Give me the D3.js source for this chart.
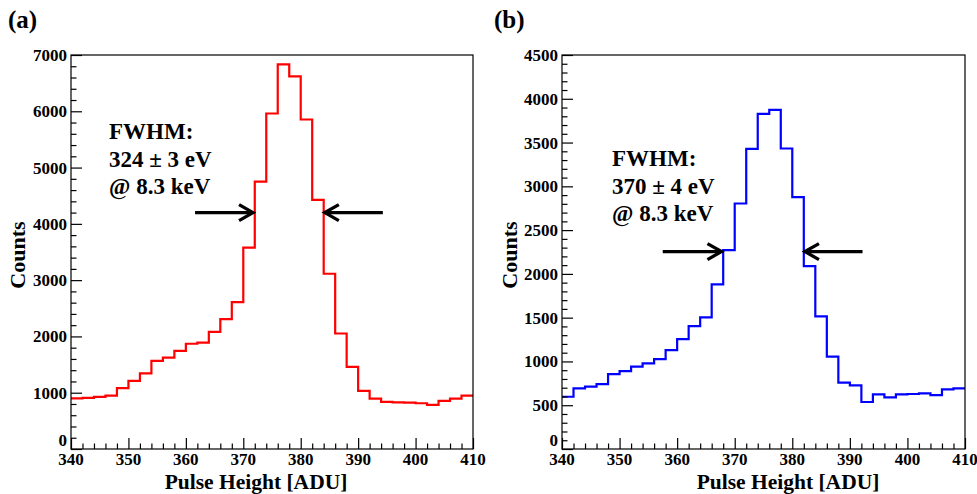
<!DOCTYPE html>
<html>
<head>
<meta charset="utf-8">
<script src="https://cdn.jsdelivr.net/npm/d3@7"></script>
<style>
  html, body { margin: 0; padding: 0; background: #fff; }
  svg { display: block; }
  text { font-family: "Liberation Serif", "Times New Roman", serif; font-weight: bold; fill: #000; }
</style>
</head>
<body>
<svg id="chart" width="977" height="494"></svg>
<script>
// ---- data ----
const binStarts = [340, 342, 344, 346, 348, 350, 352, 354, 356, 358,
                   360, 362, 364, 366, 368, 370, 372, 374, 376, 378,
                   380, 382, 384, 386, 388, 390, 392, 394, 396, 398,
                   400, 402, 404, 406, 408];
const binWidth = 2;
const countsA = [900, 910, 925, 950, 1080, 1210, 1345, 1565, 1625, 1745,
                 1870, 1890, 2080, 2307, 2610, 3577, 4751, 5961, 6833, 6619,
                 5854, 4425, 3114, 2052, 1459, 1032, 896, 836, 830, 824,
                 813, 783, 854, 896, 949];
const countsB = [597, 693, 712, 742, 856, 890, 940, 978, 1027, 1130,
                 1256, 1404, 1503, 1880, 2272, 2804, 3428, 3828, 3874, 3432,
                 2877, 2089, 1514, 1054, 757, 727, 537, 624, 590, 624,
                 628, 635, 616, 681, 693];
const xTicks = [340, 350, 360, 370, 380, 390, 400, 410];
const yTicksA = [0, 1000, 2000, 3000, 4000, 5000, 6000, 7000];
const yTicksB = [0, 500, 1000, 1500, 2000, 2500, 3000, 3500, 4000, 4500];
const labelA = ["FWHM:", "324 ± 3 eV", "@ 8.3 keV"];
const labelB = ["FWHM:", "370 ± 4 eV", "@ 8.3 keV"];
// FWHM arrow markers in data units: level, left arrow [tail, tip], right arrow [tail, tip]
const arrowA = { level: 4200, left: [361.6, 371.7], right: [394.3, 384.2] };
const arrowB = { level: 2255, left: [357.5, 367.7], right: [392.2, 382.2] };

const svg = d3.select("#chart");

function drawPanel(opt) {
  const g = svg.append("g");
  const x = d3.scaleLinear().domain([340, 410]).range([opt.left, opt.right]);
  const y = d3.scaleLinear().domain([0, opt.ymax]).range([opt.bottom, opt.top]);

  // histogram step line
  const pts = opt.counts.map((c, i) => [binStarts[i], c]);
  pts.push([binStarts[binStarts.length - 1] + binWidth, opt.counts[opt.counts.length - 1]]);
  const line = d3.line().x(d => x(d[0])).y(d => y(d[1])).curve(d3.curveStepAfter);
  g.append("path").attr("d", line(pts))
    .attr("fill", "none").attr("stroke", opt.color).attr("stroke-width", 2.2)
    .attr("stroke-linejoin", "miter");

  // frame
  g.append("rect").attr("x", opt.left).attr("y", opt.top)
    .attr("width", opt.right - opt.left).attr("height", opt.bottom - opt.top)
    .attr("fill", "none").attr("stroke", "#000").attr("stroke-width", 1.2);

  // x axis (ticks inward / upward)
  const xAxis = d3.axisTop(x).tickValues(xTicks).tickSize(11).tickFormat("");
  const xMinor = d3.axisTop(x).tickValues(d3.range(340, 411, 2).filter(v => v % 10 !== 0)).tickSize(5.5).tickFormat("");
  [xAxis, xMinor].forEach(ax => {
    const a = g.append("g").attr("transform", `translate(0,${opt.bottom})`).call(ax);
    a.select(".domain").remove();
    a.selectAll("line").attr("stroke", "#000").attr("stroke-width", 1.2);
  });
  g.selectAll(".xlab").data(xTicks).enter().append("text")
    .attr("x", d => x(d)).attr("y", opt.bottom + 16)
    .attr("text-anchor", "middle").attr("font-size", 17).text(d => d);

  // y axis (ticks inward / rightward)
  const yStep = opt.yTicks[1] - opt.yTicks[0];
  const yAxis = d3.axisRight(y).tickValues(opt.yTicks).tickSize(11).tickFormat("");
  const yMinor = d3.axisRight(y).tickValues(d3.range(0, opt.ymax + 1, yStep / 5).filter(v => v % yStep !== 0)).tickSize(5.5).tickFormat("");
  [yAxis, yMinor].forEach(ax => {
    const a = g.append("g").attr("transform", `translate(${opt.left},0)`).call(ax);
    a.select(".domain").remove();
    a.selectAll("line").attr("stroke", "#000").attr("stroke-width", 1.2);
  });
  g.selectAll(".ylab").data(opt.yTicks).enter().append("text")
    .attr("x", opt.left - 4).attr("y", d => y(d) + (d === 0 ? -3.5 : 6))
    .attr("text-anchor", "end").attr("font-size", 17).text(d => d);

  // axis titles
  g.append("text").attr("x", opt.xTitleX).attr("y", 489)
    .attr("text-anchor", "middle").attr("font-size", 21.5).text("Pulse Height [ADU]");
  g.append("text").attr("transform", `translate(${opt.yTitleX},${(opt.top + opt.bottom) / 2 + 3}) rotate(-90)`)
    .attr("text-anchor", "middle").attr("font-size", 22).text("Counts");

  // panel tag
  g.append("text").attr("x", opt.tagX).attr("y", 28).attr("font-size", 25).text(opt.tag);

  // annotation text
  g.selectAll(".ann").data(opt.label).enter().append("text")
    .attr("x", opt.annX).attr("y", (d, i) => opt.annY + i * 27.5)
    .attr("font-size", 23).text(d => d);

  // arrows
  const ay = y(opt.arrow.level);
  [opt.arrow.left, opt.arrow.right].forEach(a => {
    const x0 = x(a[0]), x1 = x(a[1]);
    const dir = Math.sign(x1 - x0);
    g.append("line").attr("x1", x0).attr("x2", x1 - dir * 1).attr("y1", ay).attr("y2", ay)
      .attr("stroke", "#000").attr("stroke-width", 3.3);
    g.append("path")
      .attr("d", `M${x1 - dir * 14},${ay - 8} L${x1},${ay} L${x1 - dir * 14},${ay + 8}`)
      .attr("fill", "none").attr("stroke", "#000").attr("stroke-width", 3.3)
      .attr("stroke-linejoin", "miter");
  });
}

drawPanel({
  left: 71, right: 473, top: 55, bottom: 449, ymax: 7000,
  counts: countsA, color: "#ff0000", yTicks: yTicksA,
  xTitleX: 256, yTitleX: 25, tag: "(a)", tagX: 8,
  label: labelA, annX: 109, annY: 139, arrow: arrowA
});
drawPanel({
  left: 562, right: 965, top: 55, bottom: 449, ymax: 4500,
  counts: countsB, color: "#0000ff", yTicks: yTicksB,
  xTitleX: 788, yTitleX: 517, tag: "(b)", tagX: 494,
  label: labelB, annX: 612, annY: 166, arrow: arrowB
});
</script>
</body>
</html>
